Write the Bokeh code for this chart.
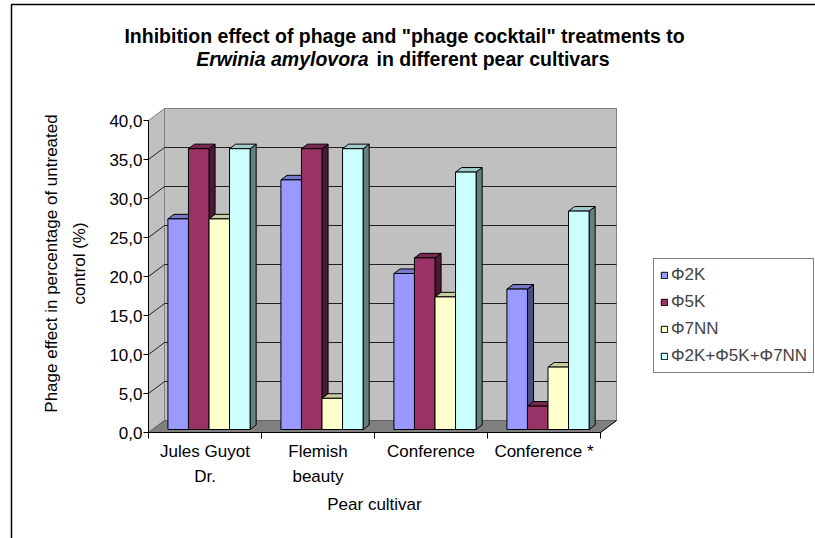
import math
from bokeh.plotting import figure
from bokeh.models import Range1d, Legend, LegendItem, ColumnDataSource
from bokeh.core.properties import value
from bokeh.embed import file_html
from bokeh.resources import INLINE

# ---- data -------------------------------------------------------------
cultivars = ["Jules Guyot\nDr.", "Flemish\nbeauty", "Conference", "Conference *"]
series_names = ["Φ2K", "Φ5K", "Φ7NN", "Φ2K+Φ5K+Φ7NN"]
phi_2k = [27.0, 32.0, 20.0, 18.0]
phi_5k = [36.0, 36.0, 22.0, 3.0]
phi_7nn = [27.0, 4.0, 17.0, 8.0]
phi_cocktail = [36.0, 36.0, 33.0, 28.0]
series_values = [phi_2k, phi_5k, phi_7nn, phi_cocktail]
y_ticks = [0, 5, 10, 15, 20, 25, 30, 35, 40]
y_tick_labels = ["0,0", "5,0", "10,0", "15,0", "20,0", "25,0", "30,0", "35,0", "40,0"]

front_colors = ["#9999FF", "#993366", "#FFFFCC", "#CCFFFF"]


def shade(hex_color, k):
    r, g, b = (int(hex_color[i:i + 2], 16) for i in (1, 3, 5))
    return "#%02X%02X%02X" % (int(r * k), int(g * k), int(b * k))


top_colors = [shade(c, 0.8) for c in front_colors]
side_colors = [shade(c, 0.5) for c in front_colors]

# ---- layout (pixels of the canvas) --------------------------------------
W_PX, H_PX = 815, 538
ORIGIN_X_PX, ORIGIN_Y_PX = 148, 432      # front corner of the value axis
CAT_PX = 113.0                            # width of one category
VAL_PX = 7.8                              # pixels per value unit
n_cat = len(cultivars)
y_max = y_ticks[-1]


def px_x(px):
    return (px - ORIGIN_X_PX) / CAT_PX


def px_y(py):
    return (ORIGIN_Y_PX - py) / VAL_PX


# depth of the 3-D box, in data units
DX = 16 / CAT_PX
DY = 12 / VAL_PX
# bars occupy this slice of the depth
F0, F1 = 0.25, 0.63
BAR_W = 1 / (len(series_names) + 1.5)
GAP = 0.75 * BAR_W

p = figure(width=W_PX, height=H_PX, output_backend="svg", toolbar_location=None,
           x_range=Range1d(px_x(0), px_x(W_PX)), y_range=Range1d(px_y(H_PX), px_y(0)),
           x_axis_location=None, y_axis_location=None, min_border=0,
           outline_line_color=None, background_fill_color="white")
p.grid.visible = False

FONT = value("Liberation Sans")
LABEL_SIZE = "17px"

# outer chart border (left and top edges)
p.line([px_x(11), px_x(11), px_x(W_PX + 5)], [px_y(H_PX + 5), px_y(4), px_y(4)],
       line_color="black", line_width=1.5)

# ---- walls and floor ----------------------------------------------------
p.patch([0, DX, DX, 0], [0, DY, y_max + DY, y_max],
        fill_color="#C0C0C0", line_color="#808080", line_width=1)
p.quad(left=[DX], right=[n_cat + DX], bottom=[DY], top=[y_max + DY],
       fill_color="#C0C0C0", line_color="#808080", line_width=1)
p.patch([0, DX, n_cat + DX, n_cat], [0, DY, DY, 0],
        fill_color="#808080", line_color="#606060", line_width=1)

grid_vals = y_ticks[1:-1]
p.segment(x0=[DX] * len(grid_vals), y0=[v + DY for v in grid_vals],
          x1=[n_cat + DX] * len(grid_vals), y1=[v + DY for v in grid_vals],
          line_color="#202020", line_width=1)
p.segment(x0=[0] * len(grid_vals), y0=grid_vals,
          x1=[DX] * len(grid_vals), y1=[v + DY for v in grid_vals],
          line_color="#202020", line_width=1)

# ---- bars ---------------------------------------------------------------
dxb = (F1 - F0) * DX
dyb = (F1 - F0) * DY
bar_base = F0 * DY
front_renderers = []
bar_faces = []
for s, vals in enumerate(series_values):
    lefts = [c + GAP + s * BAR_W + F0 * DX for c in range(n_cat)]
    rights = [l + BAR_W for l in lefts]
    tops = [v + bar_base for v in vals]
    bar_faces.append(dict(
        side_xs=[[r, r + dxb, r + dxb, r] for r in rights],
        side_ys=[[bar_base, bar_base + dyb, t + dyb, t] for t in tops],
        top_xs=[[l, r, r + dxb, l + dxb] for l, r in zip(lefts, rights)],
        top_ys=[[t, t, t + dyb, t + dyb] for t in tops],
        src=ColumnDataSource(dict(left=lefts, right=rights, top=tops,
                                  bottom=[bar_base] * n_cat))))

# side and top faces first, so the neighbouring front faces overlap them
for s, f in enumerate(bar_faces):
    p.patches(f["side_xs"], f["side_ys"], fill_color=side_colors[s],
              line_color="black", line_width=1)
    p.patches(f["top_xs"], f["top_ys"], fill_color=top_colors[s],
              line_color="black", line_width=1)
for s, f in enumerate(bar_faces):
    r = p.quad(left="left", right="right", bottom="bottom", top="top",
               source=f["src"], fill_color=front_colors[s],
               line_color="black", line_width=1)
    front_renderers.append(r)

# ---- value axis ---------------------------------------------------------
p.segment(x0=[0], y0=[0], x1=[0], y1=[y_max], line_color="black", line_width=1)
p.segment(x0=[px_x(ORIGIN_X_PX - 5)] * len(y_ticks), y0=y_ticks,
          x1=[0] * len(y_ticks), y1=y_ticks, line_color="black", line_width=1)
p.text(x=[px_x(ORIGIN_X_PX - 6)] * len(y_ticks), y=y_ticks, text=y_tick_labels,
       text_font=FONT, text_font_size=LABEL_SIZE, text_align="right",
       text_baseline="middle", text_color="black")

# ---- category axis ------------------------------------------------------
p.segment(x0=[0], y0=[0], x1=[n_cat], y1=[0], line_color="black", line_width=1)
p.segment(x0=[n_cat], y0=[0], x1=[n_cat + DX], y1=[DY], line_color="black", line_width=1)
bounds = list(range(n_cat + 1))
p.segment(x0=bounds, y0=[0] * len(bounds), x1=bounds, y1=[px_y(ORIGIN_Y_PX + 6)] * len(bounds),
          line_color="black", line_width=1)
p.text(x=[c + 0.5 for c in range(n_cat)], y=[px_y(441)] * n_cat, text=cultivars,
       text_font=FONT, text_font_size=LABEL_SIZE, text_align="center",
       text_baseline="top", text_line_height=1.35, text_color="black")
p.text(x=[n_cat / 2], y=[px_y(504)], text=["Pear cultivar"], text_font=FONT,
       text_font_size=LABEL_SIZE, text_align="center", text_baseline="middle")

# value axis title
p.text(x=[px_x(65)], y=[px_y(263)],
       text=["Phage effect in percentage of untreated\ncontrol (%)"],
       text_font=FONT, text_font_size=LABEL_SIZE, text_align="center",
       text_baseline="middle", angle=math.pi / 2, text_line_height=1.45)

# ---- title --------------------------------------------------------------
TITLE_SIZE = "19.5px"
p.text(x=[px_x(404)], y=[px_y(35)],
       text=['Inhibition effect of phage and "phage cocktail" treatments to'],
       text_font=FONT, text_font_size=TITLE_SIZE, text_font_style="bold",
       text_align="center", text_baseline="middle")
p.text(x=[px_x(368)], y=[px_y(58)], text=["Erwinia amylovora"],
       text_font=FONT, text_font_size=TITLE_SIZE, text_font_style="bold italic",
       text_align="right", text_baseline="middle")
p.text(x=[px_x(376)], y=[px_y(58)], text=["in different pear cultivars"],
       text_font=FONT, text_font_size=TITLE_SIZE, text_font_style="bold",
       text_align="left", text_baseline="middle")

# ---- legend -------------------------------------------------------------
legend = Legend(items=[LegendItem(label=n, renderers=[r])
                       for n, r in zip(series_names, front_renderers)],
                location=(653, H_PX - 373), orientation="vertical",
                glyph_width=8, glyph_height=8, label_height=20, label_standoff=3,
                spacing=7, padding=6, margin=0,
                label_text_font="Liberation Sans", label_text_font_size=LABEL_SIZE,
                border_line_color="black", border_line_width=1,
                background_fill_color="white", background_fill_alpha=1)
p.add_layout(legend)

open("out.html", "w").write(file_html(p, INLINE))
